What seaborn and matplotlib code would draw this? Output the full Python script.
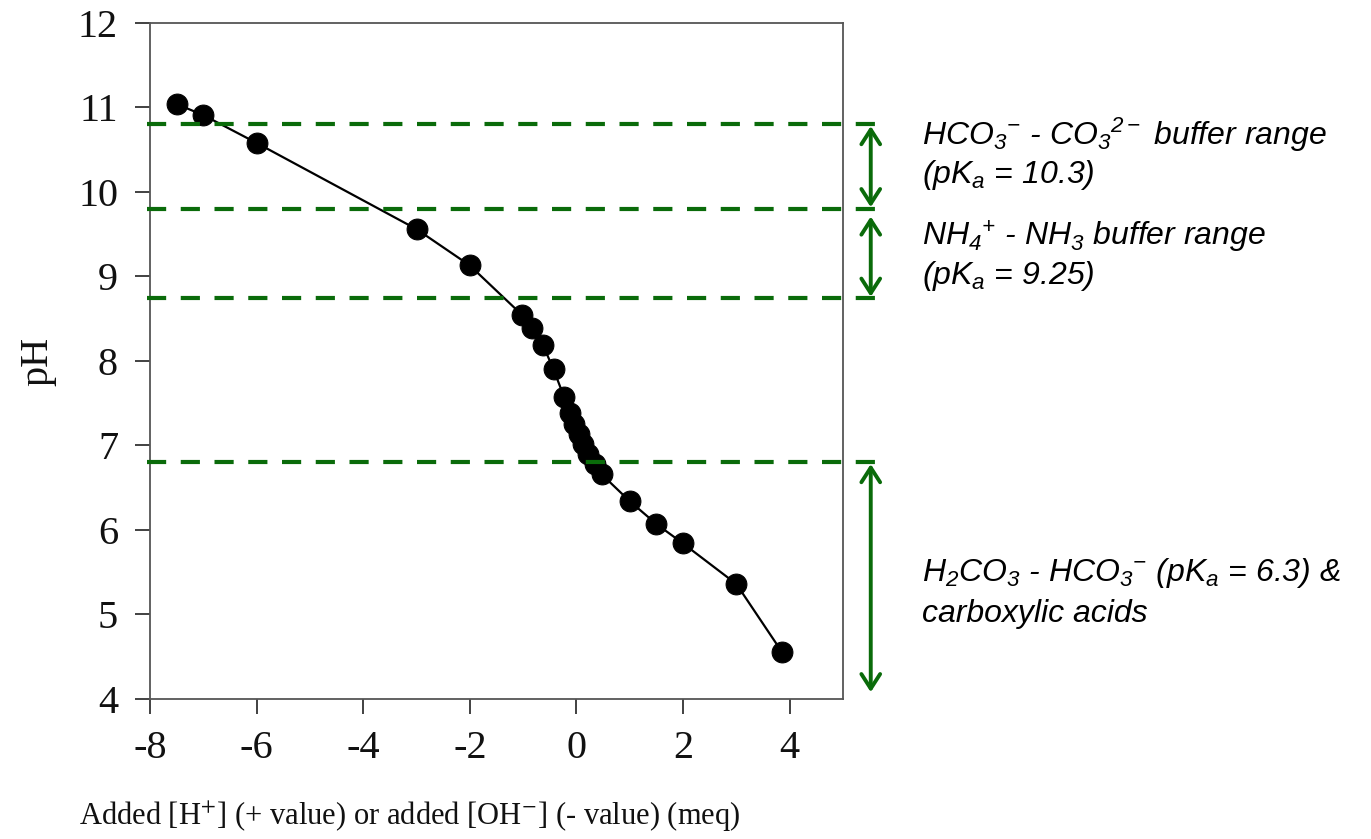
import matplotlib
matplotlib.use("Agg")
import matplotlib.pyplot as plt
import seaborn as sns
import pandas as pd

# ---- data ----
added_meq = [-7.5, -7.0, -6.0, -3.0, -2.0, -1.03, -0.84, -0.63, -0.43, -0.23, -0.13,
             -0.05, 0.04, 0.12, 0.22, 0.35, 0.47, 1.0, 1.5, 2.0, 3.0, 3.85]
ph_values = [11.04, 10.91, 10.58, 9.56, 9.13, 8.55, 8.39, 8.19, 7.90, 7.57, 7.39,
             7.25, 7.14, 7.02, 6.90, 6.78, 6.66, 6.34, 6.07, 5.84, 5.36, 4.56]
buffer_lines = [10.8, 9.8, 8.75, 6.8]
arrow_ranges = [(10.78, 9.82), (9.71, 8.76), (6.78, 4.08)]
x_ticks = [-8, -6, -4, -2, 0, 2, 4]
y_ticks = [4, 5, 6, 7, 8, 9, 10, 11, 12]
annotation_lines = [
    (r"$HCO_3$$^{-}$ - $CO_3$$^{2-}$ buffer range", 10.56),
    (r"(p$K_a$ = 10.3)", 10.11),
    (r"$NH_4$$^{+}$ - $NH_3$ buffer range", 9.37),
    (r"(p$K_a$ = 9.25)", 8.91),
    (r"$H_2CO_3$ - $HCO_3$$^{-}$ (p$K_a$ = 6.3) &", 5.40),
    (r"carboxylic acids", 4.91),
]

df = pd.DataFrame({"added": added_meq, "pH": ph_values})

sns.set_theme(style="ticks")
plt.rcParams["font.family"] = ["Liberation Serif", "DejaVu Serif"]
plt.rcParams["mathtext.fontset"] = "custom"
plt.rcParams["mathtext.rm"] = "Liberation Sans:italic"
plt.rcParams["mathtext.it"] = "Liberation Sans:italic"
plt.rcParams["mathtext.bf"] = "Liberation Sans:bold:italic"

green = "#0a6b0a"

fig = plt.figure(figsize=(13.71, 8.39), dpi=100)
ax = fig.add_axes([0.1094, 0.1669, 0.5055, 0.8057])

sns.lineplot(data=df, x="added", y="pH", sort=False, color="black", lw=1.6,
             marker="o", markersize=15, markeredgecolor="black",
             markerfacecolor="black", ax=ax, zorder=3)

ax.set_xlim(-8, 5)
ax.set_ylim(4, 12)
ax.set_xticks(x_ticks)
ax.set_yticks(y_ticks)
ax.set_xticklabels([str(v) for v in x_ticks])
ax.set_yticklabels([str(v) for v in y_ticks])
ax.tick_params(axis="both", direction="out", length=11, width=1.3, color="#333333",
               labelsize=29, labelcolor="#111111")
ax.tick_params(axis="x", pad=11)
ax.tick_params(axis="y", pad=12)
for s in ax.spines.values():
    s.set_visible(True)
    s.set_color("#555555")
    s.set_linewidth(1.3)

ax.set_xlabel(r"Added [H$^{+}$] (+ value) or added [OH$^{-}$] (- value) (meq)",
              fontsize=22, math_fontfamily="stix", color="#111111")
ax.xaxis.set_label_coords(0.375, -0.15)
ax.set_ylabel("pH", fontsize=29, color="#111111")
ax.yaxis.set_label_coords(-0.135, 0.5)

# dashed buffer boundaries extending beyond the axes
for yv in buffer_lines:
    ax.plot([-8.06, 5.76], [yv, yv], ls=(0, (4.6, 3.5)), lw=3.0, color=green,
            clip_on=False, zorder=4)

# double-headed arrows
for top, bottom in arrow_ranges:
    ax.annotate("", xy=(5.52, bottom), xytext=(5.52, top),
                arrowprops=dict(arrowstyle="<->,head_length=0.7,head_width=0.45",
                                lw=2.8, color=green, shrinkA=0, shrinkB=0,
                                mutation_scale=15),
                annotation_clip=False)

for txt, yv in annotation_lines:
    ax.text(6.49, yv, txt, fontsize=23, family="Liberation Sans", style="italic",
            va="baseline", ha="left", color="black", clip_on=False)

fig.savefig("out.png", dpi=100)
